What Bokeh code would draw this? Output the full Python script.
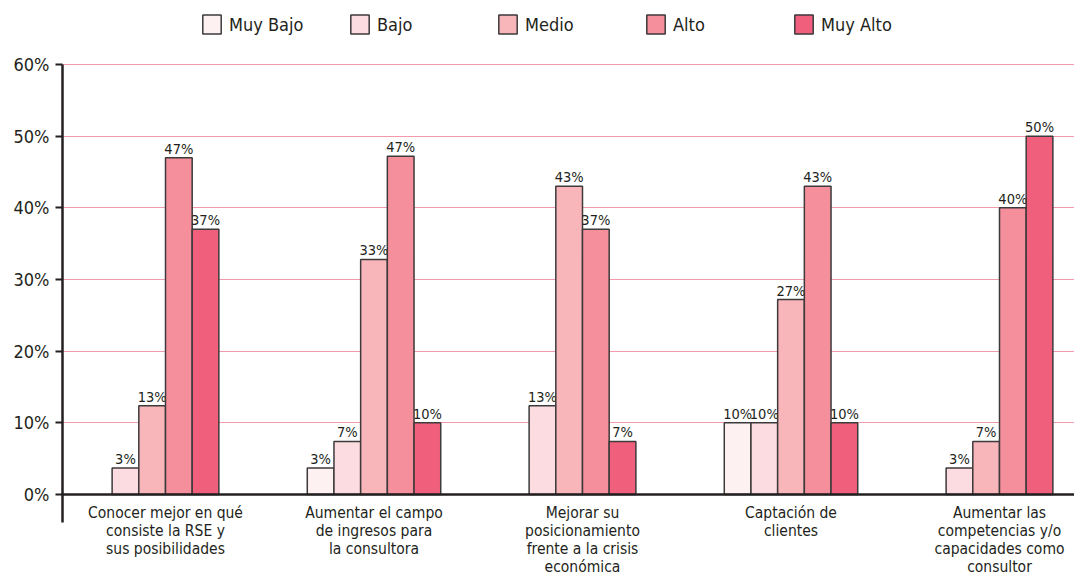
from bokeh.plotting import figure
from bokeh.models import (Range1d, FixedTicker, PrintfTickFormatter, Span, Legend,
                          LegendItem, ColumnDataSource)
from bokeh.core.properties import value
from bokeh.embed import file_html
from bokeh.resources import INLINE

# ---------------- data ----------------
categories = [
    "Conocer mejor en qué\nconsiste la RSE y\nsus posibilidades",
    "Aumentar el campo\nde ingresos para\nla consultora",
    "Mejorar su\nposicionamiento\nfrente a la crisis\neconómica",
    "Captación de\nclientes",
    "Aumentar las\ncompetencias y/o\ncapacidades como\nconsultor",
]
series = ["Muy Bajo", "Bajo", "Medio", "Alto", "Muy Alto"]

muy_bajo = [None, 3.7, None, 10.0, None]
bajo = [3.7, 7.4, 12.4, 10.0, 3.7]
medio = [12.4, 32.8, 43.0, 27.2, 7.4]
alto = [47.0, 47.2, 37.0, 43.0, 40.0]
muy_alto = [37.0, 10.0, 7.4, 10.0, 50.0]

muy_bajo_lbl = ["", "3%", "", "10%", ""]
bajo_lbl = ["3%", "7%", "13%", "10%", "3%"]
medio_lbl = ["13%", "33%", "43%", "27%", "7%"]
alto_lbl = ["47%", "47%", "37%", "43%", "40%"]
muy_alto_lbl = ["37%", "10%", "7%", "10%", "50%"]

y_ticks = [0, 10, 20, 30, 40, 50, 60]

values = [muy_bajo, bajo, medio, alto, muy_alto]
labels = [muy_bajo_lbl, bajo_lbl, medio_lbl, alto_lbl, muy_alto_lbl]
colors = ["#fdf1f1", "#fcdce0", "#f8b5ba", "#f48f9b", "#f0607d"]

# ---------------- styling ----------------
FONT = "'Liberation Sans Narrow', 'Arial Narrow', 'DejaVu Sans Condensed', sans-serif"
TXT = "#231f20"
W, H = 1074, 580
LEFT, TOP, BOTTOM = 62, 12, 58
PLOT_TOP = 64                       # page y of the 60% line
frame_h = H - TOP - BOTTOM
frame_w = W - LEFT
zero_px = 430                       # pixels from 60% to 0%
px_per = zero_px / 60.0
y_max = max(y_ticks)
y_end = y_max + (PLOT_TOP - TOP) / px_per
y_start = -(frame_h - zero_px - (PLOT_TOP - TOP)) / px_per
cat_px = 208.5
x_start = -(165 - LEFT) / cat_px
x_end = x_start + frame_w / cat_px
bar_w = 0.128

p = figure(width=W, height=H, output_backend="svg", toolbar_location=None,
           x_range=Range1d(x_start, x_end), y_range=Range1d(y_start, y_end),
           min_border_left=LEFT, min_border_right=0, min_border_top=TOP,
           min_border_bottom=BOTTOM)
p.outline_line_color = None
p.background_fill_color = "white"
p.xgrid.visible = False
p.ygrid.ticker = FixedTicker(ticks=y_ticks[1:])
p.ygrid.grid_line_color = "#f39aaa"
p.ygrid.grid_line_width = 1

# y axis
p.yaxis.ticker = FixedTicker(ticks=y_ticks)
p.yaxis.bounds = (y_start, y_max)
p.yaxis.formatter = PrintfTickFormatter(format="%d%%")
p.yaxis.axis_line_color = TXT
p.yaxis.axis_line_width = 2.5
p.yaxis.major_tick_line_color = TXT
p.yaxis.major_tick_line_width = 2
p.yaxis.major_tick_out = 7
p.yaxis.major_tick_in = 0
p.yaxis.minor_tick_line_color = None
p.yaxis.major_label_standoff = 6
p.yaxis.major_label_text_font = FONT
p.yaxis.major_label_text_font_size = "18px"
p.yaxis.major_label_text_color = TXT

# x axis (category labels)
p.xaxis.ticker = FixedTicker(ticks=list(range(len(categories))))
p.xaxis.major_label_overrides = {i: c for i, c in enumerate(categories)}
p.xaxis.axis_line_color = None
p.xaxis.major_tick_line_color = None
p.xaxis.minor_tick_line_color = None
p.xaxis.major_tick_out = 0
p.xaxis.major_label_standoff = -19
p.xaxis.major_label_text_font = FONT
p.xaxis.major_label_text_font_size = "15.5px"
p.xaxis.major_label_text_line_height = 1.0
p.xaxis.major_label_text_color = TXT

# bars
items = []
for si, name in enumerate(series):
    xs, tops, lbls = [], [], []
    for ci in range(len(categories)):
        present = [k for k in range(len(series)) if values[k][ci] is not None]
        if si not in present:
            continue
        n = len(present)
        k = present.index(si)
        xs.append(ci + (k - (n - 1) / 2.0) * bar_w)
        tops.append(values[si][ci])
        lbls.append(labels[si][ci])
    src = ColumnDataSource(dict(x=xs, top=tops, label=lbls))
    r = p.vbar(x="x", top="top", width=bar_w, bottom=0, source=src,
               fill_color=colors[si], line_color="#3c3a3b", line_width=1.5)
    p.text(x="x", y="top", text="label", source=src, text_align="center",
           text_baseline="bottom", y_offset=-1, text_font=value(FONT),
           text_font_size="14.5px", text_color=TXT)
    items.append(LegendItem(label=name, renderers=[r]))

p.add_layout(Span(location=0, dimension="width", line_color=TXT, line_width=2.5))

legend = Legend(items=items, orientation="horizontal",
                location=(200 - LEFT, frame_h - 24),
                glyph_width=23, glyph_height=24, label_standoff=6,
                label_width=119, spacing=0, padding=0, margin=0,
                border_line_color=None, background_fill_alpha=0,
                label_text_font=FONT, label_text_font_size="18px",
                label_text_color=TXT)
p.add_layout(legend)

open("out.html", "w").write(file_html(p, INLINE))
